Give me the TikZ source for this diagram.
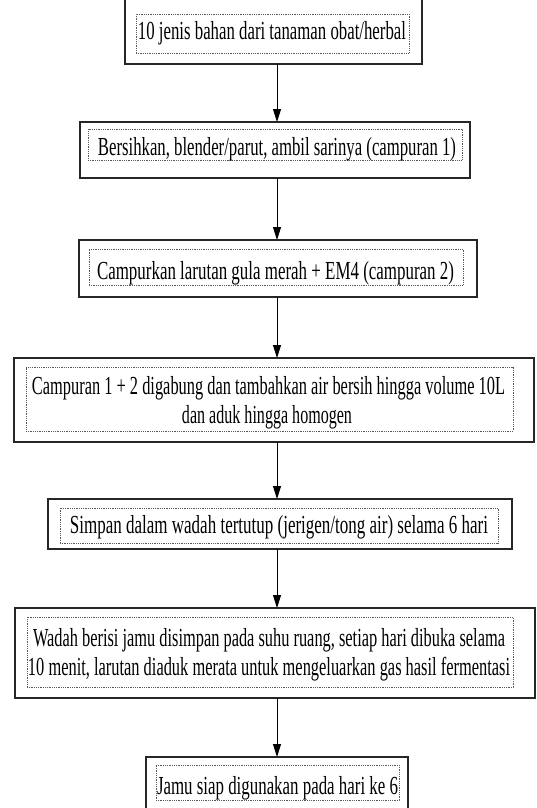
\documentclass[tikz,border=0pt]{standalone}
\usepackage{fontspec}
\setmainfont{Liberation Serif}
\usetikzlibrary{arrows.meta}
\newcommand\fitw[2]{\resizebox{#1pt}{\height}{#2}}
\begin{document}
\begin{tikzpicture}[x=1pt,y=-1pt,
  obox/.style={draw=black!85, line width=1.3pt, rectangle, inner sep=0pt, outer sep=0pt},
  ibox/.style={draw=black!65, densely dotted, line width=0.8pt, rectangle, inner sep=0pt, outer sep=0pt},
  txt/.style={anchor=base, inner sep=0pt, font=\fontsize{26}{30}\selectfont},
  arr/.style={draw=black, line width=0.9pt, -{Triangle[width=8pt,length=13pt]}}]
\useasboundingbox (0,0) rectangle (537,808);
\clip (0,0) rectangle (537,808);
% outer boxes
\node[obox, minimum width=297pt, minimum height=84pt] (o1) at (273.5,22) {};
\node[obox, minimum width=390pt, minimum height=56pt] (o2) at (275,150) {};
\node[obox, minimum width=398pt, minimum height=57pt] (o3) at (278,268.5) {};
\node[obox, minimum width=520pt, minimum height=84pt] (o4) at (274,400) {};
\node[obox, minimum width=464pt, minimum height=50pt] (o5) at (280,524) {};
\node[obox, minimum width=520pt, minimum height=90pt] (o6) at (275,653) {};
\node[obox, minimum width=262pt, minimum height=70pt] (o7) at (277,792) {};
% inner dotted boxes
\node[ibox, minimum width=273pt, minimum height=39pt] (i1) at (272.5,33.5) {};
\node[ibox, minimum width=374pt, minimum height=31pt] (i2) at (275,144.5) {};
\node[ibox, minimum width=374pt, minimum height=36pt] (i3) at (276,267) {};
\node[ibox, minimum width=487pt, minimum height=64pt] (i4) at (269.5,399) {};
\node[ibox, minimum width=438pt, minimum height=35pt] (i5) at (279,525.5) {};
\node[ibox, minimum width=486pt, minimum height=70pt] (i6) at (270,652) {};
\node[ibox, minimum width=243pt, minimum height=35pt] (i7) at (277.5,782.5) {};
% texts
\node[txt] (t1) at (272,39) {\fitw{268}{10 jenis bahan dari tanaman obat/herbal}};
\node[txt] (t2) at (277,155) {\fitw{358}{Bersihkan, blender/parut, ambil sarinya (campuran 1)}};
\node[txt] (t3) at (275.5,279) {\fitw{357}{Campurkan larutan gula merah + EM4 (campuran 2)}};
\node[txt] (t4a) at (268.5,394) {\fitw{473}{Campuran 1 + 2 digabung dan tambahkan air bersih hingga volume 10L}};
\node[txt] (t4b) at (267,423) {\fitw{170}{dan aduk hingga homogen}};
\node[txt] (t5) at (279,533) {\fitw{418}{Simpan dalam wadah tertutup (jerigen/tong air) selama 6 hari}};
\node[txt] (t6a) at (269,646) {\fitw{472}{Wadah berisi jamu disimpan pada suhu ruang, setiap hari dibuka selama}};
\node[txt] (t6b) at (269,675) {\fitw{482}{10 menit, larutan diaduk merata untuk mengeluarkan gas hasil fermentasi}};
\node[txt] (t7) at (277.5,794) {\fitw{241}{Jamu siap digunakan pada hari ke 6}};
% arrows
\coordinate (ax) at (277,0);
\draw[arr] (o1.south -| ax) -- (o2.north -| ax);
\draw[arr] (o2.south -| ax) -- (o3.north -| ax);
\draw[arr] (o3.south -| ax) -- (o4.north -| ax);
\draw[arr] (o4.south -| ax) -- (o5.north -| ax);
\draw[arr] (o5.south -| ax) -- (o6.north -| ax);
\draw[arr] (o6.south -| ax) -- (o7.north -| ax);
\end{tikzpicture}
\end{document}
